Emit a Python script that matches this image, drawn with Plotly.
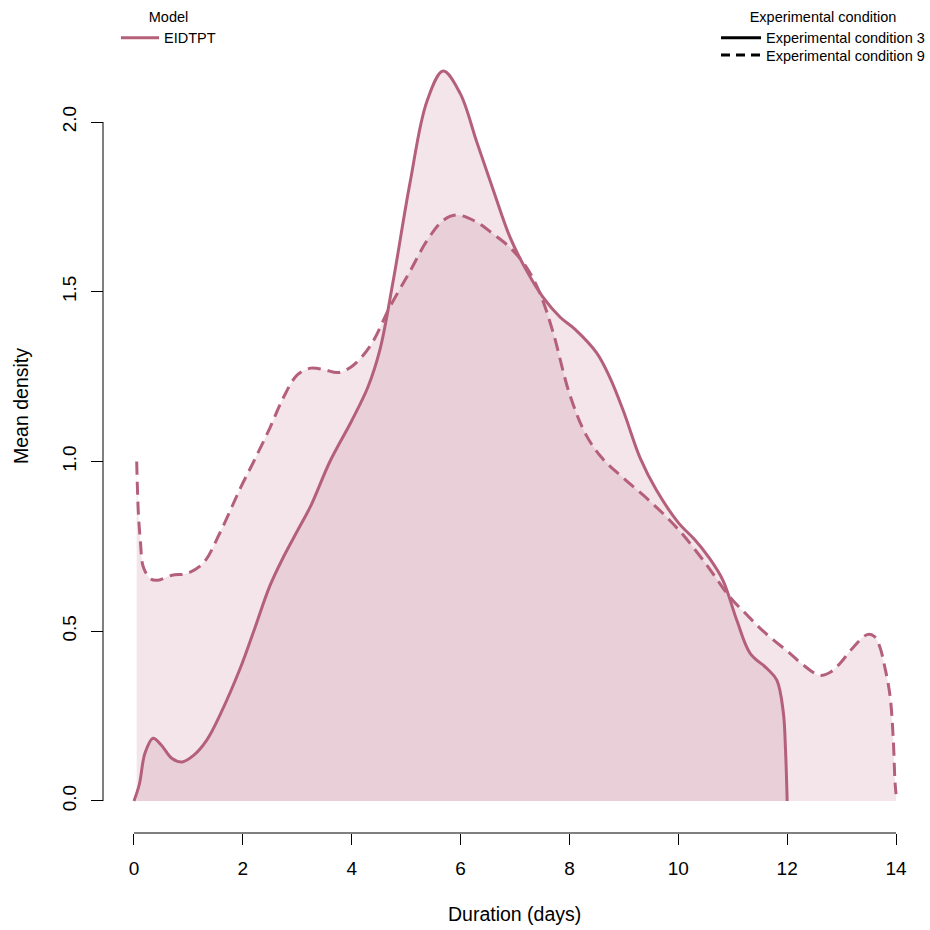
import plotly.graph_objects as go

# ---- data ----
cond3_x = [0, 0.1, 0.2, 0.35, 0.5, 0.7, 0.88, 1.1, 1.34, 1.6, 1.95, 2.2, 2.5, 2.75,
           3.0, 3.25, 3.6, 4.0, 4.3, 4.52, 4.76, 5.07, 5.38, 5.68, 5.99, 6.3, 6.6,
           6.91, 7.22, 7.51, 7.83, 8.1, 8.5, 8.75, 9.0, 9.3, 9.6, 10.0, 10.3, 10.55,
           10.82, 11.08, 11.32, 11.63, 11.81, 11.93, 11.97, 12.0]
cond3_y = [0.0, 0.05, 0.14, 0.185, 0.165, 0.125, 0.115, 0.135, 0.18, 0.26, 0.39, 0.50,
           0.635, 0.72, 0.795, 0.87, 1.0, 1.12, 1.22, 1.33, 1.53, 1.82, 2.06, 2.15, 2.085,
           1.94, 1.80, 1.66, 1.56, 1.485, 1.425, 1.39, 1.32, 1.245, 1.145, 1.01, 0.915,
           0.82, 0.77, 0.72, 0.65, 0.53, 0.435, 0.39, 0.356, 0.26, 0.15, 0.0]

cond9_x = [0.05, 0.08, 0.12, 0.17, 0.3, 0.42, 0.7, 0.97, 1.27, 1.58, 1.95, 2.2, 2.5,
           2.75, 3.0, 3.25, 3.5, 3.75, 4.0, 4.34, 4.7, 5.07, 5.38, 5.68, 5.93, 6.3, 6.6,
           6.91, 7.22, 7.46, 7.7, 8.0, 8.3, 8.6, 9.0, 9.5, 10.0, 10.5, 10.95, 11.25,
           11.56, 12.05, 12.3, 12.6, 12.8, 12.97, 13.2, 13.47, 13.6, 13.7, 13.8, 13.89,
           13.95, 13.98, 14.0]
cond9_y = [1.0, 0.85, 0.76, 0.69, 0.655, 0.65, 0.665, 0.67, 0.70, 0.79, 0.92, 1.0, 1.10,
           1.19, 1.255, 1.275, 1.27, 1.262, 1.28, 1.34, 1.455, 1.56, 1.65, 1.71, 1.726,
           1.705, 1.67, 1.63, 1.57, 1.495, 1.38, 1.20, 1.08, 1.01, 0.95, 0.88, 0.80, 0.70,
           0.60, 0.55, 0.50, 0.435, 0.40, 0.37, 0.38, 0.405, 0.45, 0.49, 0.485, 0.455,
           0.39, 0.31, 0.18, 0.06, 0.02]

x_ticks = [0, 2, 4, 6, 8, 10, 12, 14]
y_ticks = [0.0, 0.5, 1.0, 1.5, 2.0]
y_ticktext = ["0.0", "0.5", "1.0", "1.5", "2.0"]

LINE = "#B5607A"
FILL = "rgba(181,96,122,0.16)"
FONT = "Liberation Sans, Arial, sans-serif"
W = 930.0

fig = go.Figure()
fig.add_trace(go.Scatter(x=cond9_x, y=cond9_y, mode="lines", fill="tozeroy",
                         fillcolor=FILL, line=dict(color=LINE, width=3, dash="13px,7px",
                                                   shape="spline", smoothing=1.0),
                         showlegend=False, hoverinfo="skip"))
fig.add_trace(go.Scatter(x=cond3_x, y=cond3_y, mode="lines", fill="tozeroy",
                         fillcolor=FILL, line=dict(color=LINE, width=3,
                                                   shape="spline", smoothing=1.0),
                         showlegend=False, hoverinfo="skip"))

# legend entries
fig.add_trace(go.Scatter(x=[None], y=[None], mode="lines", name="EIDTPT",
                         line=dict(color=LINE, width=3), legend="legend"))
fig.add_trace(go.Scatter(x=[None], y=[None], mode="lines", name="Experimental condition 3",
                         line=dict(color="black", width=3), legend="legend2"))
fig.add_trace(go.Scatter(x=[None], y=[None], mode="lines", name="Experimental condition 9",
                         line=dict(color="black", width=3, dash="9px,6px"), legend="legend3"))

x_dom = [103.5 / W, 926.5 / W]
y_dom = [(W - 830.3) / W, (W - 38.5) / W]

fig.update_layout(
    width=930, height=930,
    margin=dict(l=0, r=0, t=0, b=0, autoexpand=False),
    paper_bgcolor="white", plot_bgcolor="white",
    font=dict(family=FONT, size=19, color="black"),
    xaxis=dict(range=[-0.56, 14.56], domain=x_dom, anchor="free", position=(W - 833) / W,
               showgrid=False, zeroline=False, showline=False,
               tickvals=x_ticks, ticks="outside", ticklen=11, tickwidth=1,
               tickcolor="black", tickfont=dict(size=19), ticklabelstandoff=7),
    yaxis=dict(range=[-0.0864, 2.246], domain=y_dom, anchor="free", position=103 / W,
               showgrid=False, zeroline=False, showline=False,
               tickvals=y_ticks, ticktext=y_ticktext, ticks="outside", ticklen=12,
               tickwidth=1, tickcolor="black", tickangle=-90, tickfont=dict(size=19),
               ticklabelstandoff=7),
    legend=dict(x=116 / W, y=1.0 - 3 / W, xanchor="left", yanchor="top",
                itemwidth=38,
                title=dict(text="Model", side="top center", font=dict(size=14.5)),
                font=dict(size=14.5), bgcolor="rgba(0,0,0,0)"),
    legend2=dict(x=1.0, y=1.0 - 3 / W, xanchor="right", yanchor="top",
                 itemwidth=40,
                 title=dict(text="Experimental condition", side="top center",
                            font=dict(size=14.5)),
                 font=dict(size=14.5), bgcolor="rgba(0,0,0,0)"),
    legend3=dict(x=1.0, y=1.0 - 39 / W, xanchor="right", yanchor="top",
                 itemwidth=40,
                 font=dict(size=14.5), bgcolor="rgba(0,0,0,0)"),
    shapes=[
        dict(type="line", xref="x", yref="paper", x0=x_ticks[0], x1=x_ticks[-1],
             y0=(W - 833) / W, y1=(W - 833) / W, line=dict(color="black", width=1)),
        dict(type="line", xref="paper", yref="y", x0=103 / W, x1=103 / W,
             y0=y_ticks[0], y1=y_ticks[-1], line=dict(color="black", width=1)),
    ],
    annotations=[
        dict(text="Duration (days)", xref="paper", yref="paper", x=514 / W,
             y=(W - 914) / W, xanchor="center", yanchor="middle", showarrow=False,
             font=dict(size=19.5)),
        dict(text="Mean density", xref="paper", yref="paper", x=21 / W,
             y=(W - 406) / W, xanchor="center", yanchor="middle", textangle=-90,
             showarrow=False, font=dict(size=19.5)),
    ],
)

fig.write_html("out.html")
